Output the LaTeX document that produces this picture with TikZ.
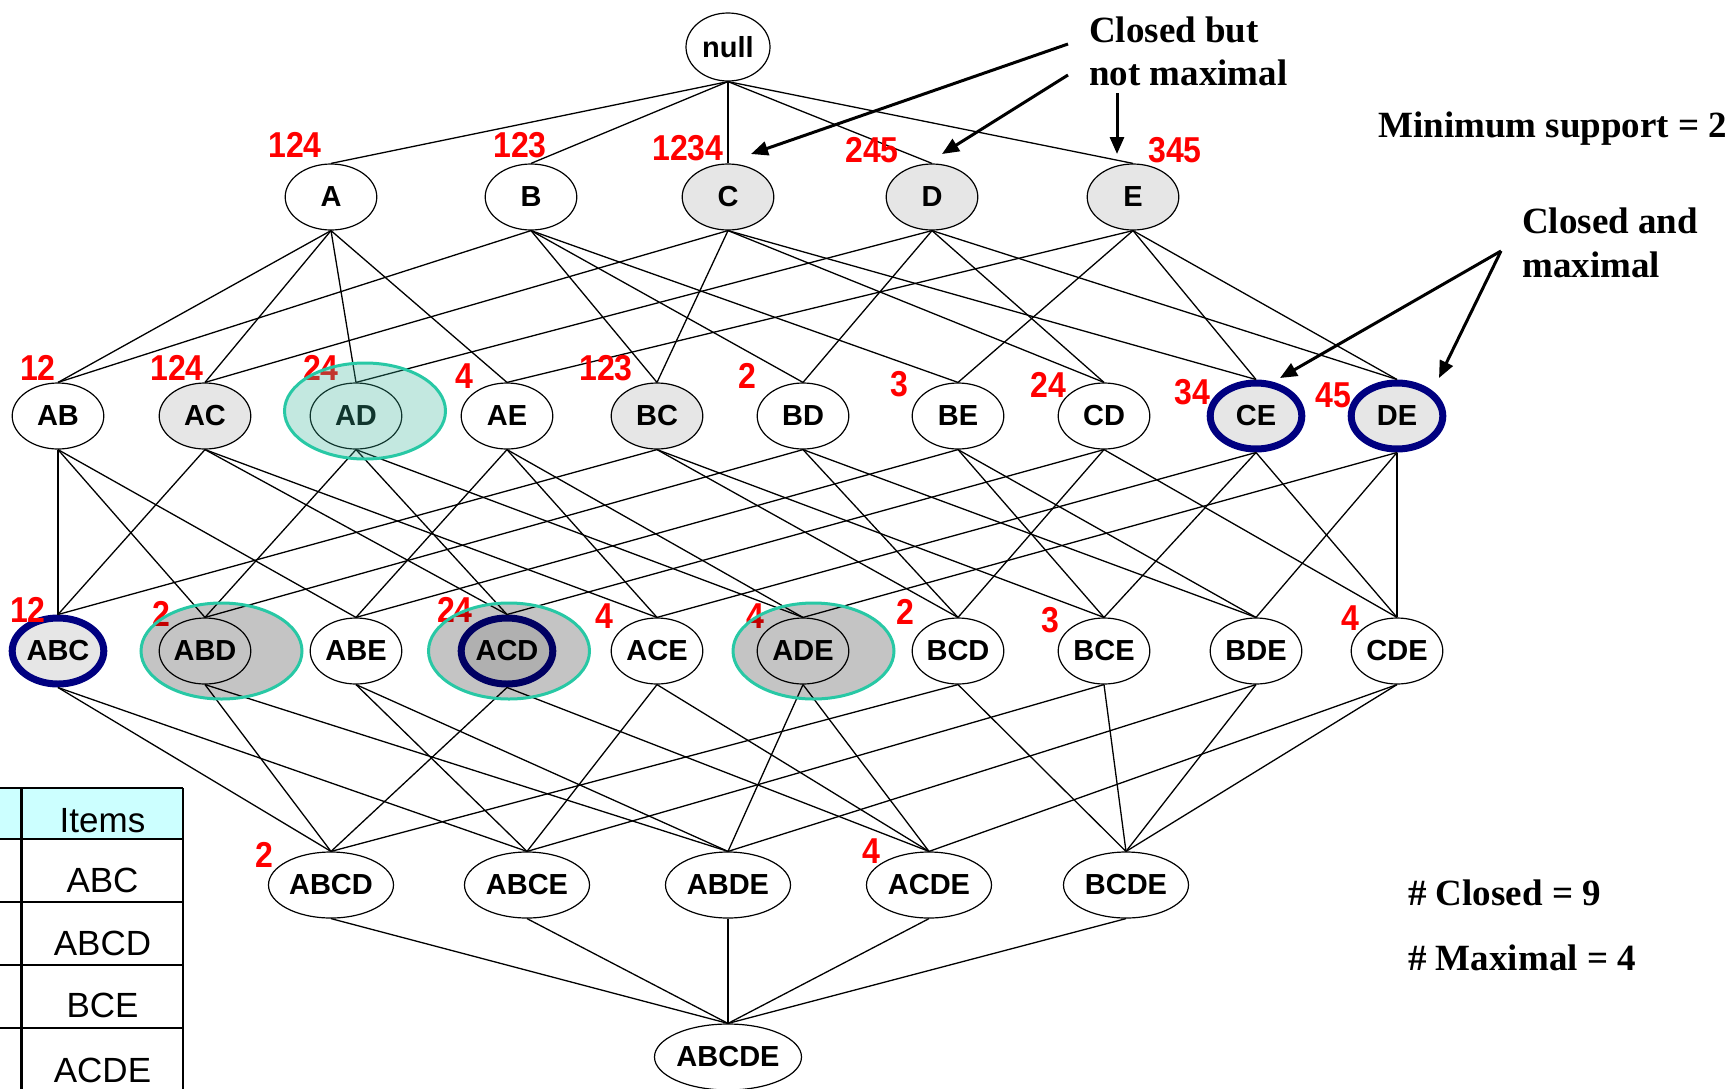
\documentclass[tikz,border=0pt]{standalone}
\usepackage{fontspec}
\usetikzlibrary{shapes.geometric,arrows.meta}
\newfontfamily\lsans{Liberation Sans}
\newfontfamily\lsansnarrow{Liberation Sans}[FakeStretch=0.89]
\newfontfamily\lserif{Liberation Serif}
\definecolor{navyring}{RGB}{0,0,128}
\definecolor{closedgray}{RGB}{230,230,230}
\definecolor{tealedge}{RGB}{40,200,165}
\definecolor{tealfill}{RGB}{55,178,152}
\definecolor{hdrcyan}{RGB}{204,255,255}
\definecolor{tidred}{RGB}{255,0,0}

\begin{document}
\begin{tikzpicture}[x=1pt,y=-1pt,
  itm/.style={ellipse, draw=black, line width=1.2pt, fill=white, inner sep=0pt,
    minimum width=91.6pt, minimum height=66pt,
    font=\lsans\bfseries\fontsize{29}{29}\selectfont},
  wide/.style={minimum width=125pt},
  widest/.style={minimum width=147pt},
  closedset/.style={fill=closedgray},
  maxset/.style={fill=closedgray, draw=navyring, line width=7pt},
  tid/.style={text=tidred, inner sep=0pt,
    font=\lsansnarrow\bfseries\fontsize{36}{36}\selectfont},
  link/.style={line width=1.3pt},
  note/.style={font=\lserif\bfseries\fontsize{37}{37}\selectfont,
    inner sep=0pt, anchor=base west},
  pointer/.style={line width=3pt, -{Triangle[length=17pt,width=14pt]}},
  cover/.style={ellipse, minimum width=161pt, minimum height=96pt,
    draw=tealedge, line width=3pt, fill=black, fill opacity=0.23},
  tealcover/.style={cover, fill=tealfill, fill opacity=0.3},
  cell/.style={font=\lsans\fontsize{35}{35}\selectfont, inner sep=0pt, anchor=base},
  tablerule/.style={line width=2.5pt}
]
\useasboundingbox (0,0) rectangle (1730,1088);
\clip (0,0) rectangle (1730,1088);

% ---------- itemset lattice ----------
\node[itm, minimum width=84pt, minimum height=68pt] (empty) at (728,47) {null};

\node[itm] (A) at (331,197) {A};
\node[itm] (B) at (531,197) {B};
\node[itm, closedset] (C) at (728,197) {C};
\node[itm, closedset] (D) at (932,197) {D};
\node[itm, closedset] (E) at (1133,197) {E};

\node[itm] (AB) at (58,416) {AB};
\node[itm, closedset] (AC) at (205,416) {AC};
\node[itm] (AD) at (356,416) {AD};
\node[itm] (AE) at (507,416) {AE};
\node[itm, closedset] (BC) at (657,416) {BC};
\node[itm] (BD) at (803,416) {BD};
\node[itm] (BE) at (958,416) {BE};
\node[itm] (CD) at (1104,416) {CD};
\node[itm, maxset] (CE) at (1256,416) {CE};
\node[itm, maxset] (DE) at (1397,416) {DE};

\node[itm, maxset] (ABC) at (58,651) {ABC};
\node[itm] (ABD) at (205,651) {ABD};
\node[itm] (ABE) at (356,651) {ABE};
\node[itm, maxset] (ACD) at (507,651) {ACD};
\node[itm] (ACE) at (657,651) {ACE};
\node[itm] (ADE) at (803,651) {ADE};
\node[itm] (BCD) at (958,651) {BCD};
\node[itm] (BCE) at (1104,651) {BCE};
\node[itm] (BDE) at (1256,651) {BDE};
\node[itm] (CDE) at (1397,651) {CDE};

\node[itm, wide] (ABCD) at (331,885) {ABCD};
\node[itm, wide] (ABCE) at (527,885) {ABCE};
\node[itm, wide] (ABDE) at (728,885) {ABDE};
\node[itm, wide] (ACDE) at (929,885) {ACDE};
\node[itm, wide] (BCDE) at (1126,885) {BCDE};

\node[itm, widest] (ABCDE) at (728,1057) {ABCDE};

% subset links
\foreach \u/\v in {empty/A, empty/B, empty/C, empty/D, empty/E,
  A/AB, B/AB, A/AC, C/AC, A/AD, D/AD, A/AE, E/AE, B/BC, C/BC,
  B/BD, D/BD, B/BE, E/BE, C/CD, D/CD, C/CE, E/CE, D/DE, E/DE,
  AB/ABC, AC/ABC, BC/ABC, AB/ABD, AD/ABD, BD/ABD, AB/ABE, AE/ABE, BE/ABE,
  AC/ACD, AD/ACD, CD/ACD, AC/ACE, AE/ACE, CE/ACE, AD/ADE, AE/ADE, DE/ADE,
  BC/BCD, BD/BCD, CD/BCD, BC/BCE, BE/BCE, CE/BCE, BD/BDE, BE/BDE, DE/BDE,
  CD/CDE, CE/CDE, DE/CDE,
  ABC/ABCD, ABD/ABCD, ACD/ABCD, BCD/ABCD,
  ABC/ABCE, ABE/ABCE, ACE/ABCE, BCE/ABCE,
  ABD/ABDE, ABE/ABDE, ADE/ABDE, BDE/ABDE,
  ACD/ACDE, ACE/ACDE, ADE/ACDE, CDE/ACDE,
  BCD/BCDE, BCE/BCDE, BDE/BCDE, CDE/BCDE,
  ABCD/ABCDE, ABCE/ABCDE, ABDE/ABCDE, ACDE/ABCDE, BCDE/ABCDE}
  \draw[link] (\u.south) -- (\v.north);

% transaction ids
\node[tid] (tA) at (295,145) {124};
\node[tid] (tB) at (520,145) {123};
\node[tid] (tC) at (688,148) {1234};
\node[tid] (tD) at (872,150) {245};
\node[tid] (tE) at (1175,150) {345};

\node[tid] (tAB) at (38,368) {12};
\node[tid] (tAC) at (177,368) {124};
\node[tid] (tAD) at (321,368) {24};
\node[tid] (tAE) at (464,376) {4};
\node[tid] (tBC) at (606,368) {123};
\node[tid] (tBD) at (747,376) {2};
\node[tid] (tBE) at (899,384) {3};
\node[tid] (tCD) at (1048,385) {24};
\node[tid] (tCE) at (1192,392) {34};
\node[tid] (tDE) at (1333,395) {45};

\node[tid] (tABC) at (28,610) {12};
\node[tid] (tABD) at (161,614) {2};
\node[tid] (tACD) at (455,610) {24};
\node[tid] (tACE) at (604,616) {4};
\node[tid] (tADE) at (755,616) {4};
\node[tid] (tBCD) at (905,612) {2};
\node[tid] (tBCE) at (1050,620) {3};
\node[tid] (tCDE) at (1350,618) {4};

\node[tid] (tABCD) at (264,855) {2};
\node[tid] (tACDE) at (871,851) {4};

% highlighted itemsets
\node[tealcover] (ADhl) at (365,411) {};
\node[cover] (ABDhl) at (221.5,651) {};
\node[cover] (ACDhl) at (509,651) {};
\node[cover] (ADEhl) at (813.5,651) {};

% ---------- annotations ----------
\node[note] (cbn1) at (1089,42) {Closed but};
\node[note] (cbn2) at (1089,85) {not maximal};
\node[note] (minsup) at (1378,137) {Minimum support = 2};
\node[note] (cam1) at (1522,233) {Closed and};
\node[note] (cam2) at (1522,277) {maximal};
\node[note] (nclosed) at (1408,905) {\# Closed = 9};
\node[note] (nmax) at (1408,970) {\# Maximal = 4};

\coordinate (p1s) at (1068,44);  \coordinate (p1e) at (751,154);
\coordinate (p2s) at (1068,75);  \coordinate (p2e) at (942,154);
\coordinate (p3s) at (1117,93);  \coordinate (p3e) at (1117,154);
\coordinate (p4s) at (1501,251); \coordinate (p4e) at (1280,378);
\coordinate (p5e) at (1439,378);
\draw[pointer] (p1s) -- (p1e);
\draw[pointer] (p2s) -- (p2e);
\draw[pointer] (p3s) -- (p3e);
\draw[pointer] (p4s) -- (p4e);
\draw[pointer] (p4s) -- (p5e);

% ---------- transaction table ----------
\fill[hdrcyan] (-10,788) rectangle (183,839);
\draw[tablerule] (-10,788) -- (183,788) (-10,839) -- (183,839)
  (-10,902) -- (183,902) (-10,965) -- (183,965) (-10,1028) -- (183,1028)
  (21.7,788) -- (21.7,1100) (183,788) -- (183,1100);
\node[cell] (hdr) at (102.5,832) {Items};
\node[cell] (row1) at (102.5,892) {ABC};
\node[cell] (row2) at (102.5,955) {ABCD};
\node[cell] (row3) at (102.5,1017) {BCE};
\node[cell] (row4) at (102.5,1082) {ACDE};
\end{tikzpicture}
\end{document}
